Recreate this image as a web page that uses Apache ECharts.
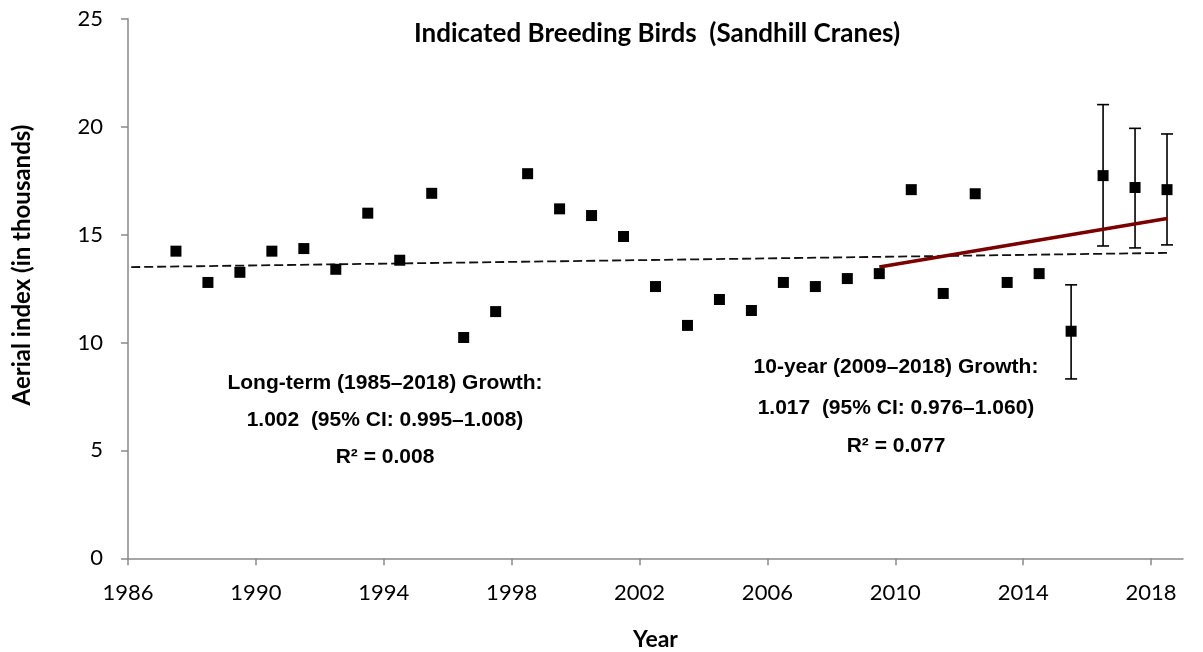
<!DOCTYPE html>
<html>
<head>
<meta charset="utf-8">
<script src="https://cdn.jsdelivr.net/npm/echarts@6/dist/echarts.min.js"></script>
<style>
  html, body { margin: 0; padding: 0; background: #fff; }
  #chart { width: 1203px; height: 652px; }
</style>
</head>
<body>
<div id="chart"></div>
<script>
// survey years and aerial index (thousands)
const years = [1987, 1988, 1989, 1990, 1991, 1992, 1993, 1994, 1995, 1996, 1997,
  1998, 1999, 2000, 2001, 2002, 2003, 2004, 2005, 2006, 2007, 2008, 2009, 2010,
  2011, 2012, 2013, 2014, 2015, 2016, 2017, 2018]
const values = [14.23, 12.78, 13.25, 14.23, 14.35, 13.39, 15.99, 13.81, 16.91, 10.23, 11.43,
  17.82, 16.19, 15.88, 14.91, 12.59, 10.79, 11.99, 11.48, 12.78, 12.59, 12.96, 13.19, 17.08,
  12.27, 16.89, 12.78, 13.19, 10.52, 17.73, 17.18, 17.08]

// 95% intervals for the recent years
const ciYears = [2015, 2016, 2017, 2018]
const ciLow = [8.31, 14.47, 14.38, 14.52]
const ciHigh = [12.67, 21.02, 19.92, 19.66]

// trend lines (end points)
const longTrendX = [1986.1, 2018.5]
const longTrendY = [13.49, 14.15]
const shortTrendX = [2009.5, 2018.5]
const shortTrendY = [13.5, 15.74]

const xTicks = [1986, 1990, 1994, 1998, 2002, 2006, 2010, 2014, 2018]

const longText = ['Long-term (1985–2018) Growth:', '1.002  (95% CI: 0.995–1.008)', 'R² = 0.008']
const shortText = ['10-year (2009–2018) Growth:', '1.017  (95% CI: 0.976–1.060)', 'R² = 0.077']

// points sit in the middle of each year
const mid = 0.5

const axisColor = '#898989'
const labelFont = 'Lato, "Open Sans", sans-serif'
const noteFont = '"Liberation Sans", Arial, sans-serif'

const chart = echarts.init(document.getElementById('chart'))

const noteLines = (lines, x, ys) => lines.map((t, i) => ({
  type: 'text',
  x: x,
  y: ys[i],
  style: {
    text: t,
    fill: '#000',
    font: 'bold 21px ' + noteFont,
    textAlign: 'center',
    textVerticalAlign: 'middle'
  }
}))

chart.setOption({
  animation: false,
  grid: {
    left: 128,
    right: 20,
    top: 18.7,
    bottom: 93.7,
    outerBoundsMode: 'none'
  },
  xAxis: {
    type: 'value',
    min: 1986,
    max: 2019,
    name: 'Year',
    nameLocation: 'middle',
    nameGap: 81,
    nameTextStyle: {
      fontFamily: labelFont,
      fontWeight: 'bold',
      fontSize: 23,
      color: '#000',
      verticalAlign: 'middle'
    },
    splitLine: { show: false },
    axisLine: { lineStyle: { color: axisColor, width: 1.5 } },
    axisTick: {
      customValues: xTicks,
      length: 7,
      lineStyle: { color: axisColor, width: 1.5 }
    },
    axisLabel: {
      customValues: xTicks,
      formatter: v => String(v),
      margin: 24,
      fontFamily: labelFont,
      fontSize: 22,
      color: '#000'
    }
  },
  yAxis: {
    type: 'value',
    min: 0,
    max: 25,
    interval: 5,
    splitLine: { show: false },
    axisLine: { show: true, lineStyle: { color: axisColor, width: 1.5 } },
    axisTick: { show: true, length: 7, lineStyle: { color: axisColor, width: 1.5 } },
    axisLabel: {
      margin: 25,
      fontFamily: labelFont,
      fontSize: 22,
      color: '#000'
    }
  },
  graphic: [
    {
      type: 'text',
      x: 657,
      y: 34,
      style: {
        text: 'Indicated Breeding Birds  (Sandhill Cranes)',
        fill: '#000',
        font: 'bold 26px ' + labelFont,
        textAlign: 'center',
        textVerticalAlign: 'middle'
      }
    },
    {
      type: 'text',
      x: 22,
      y: 265,
      rotation: Math.PI / 2,
      style: {
        text: 'Aerial index (in thousands)',
        fill: '#000',
        font: 'bold 24px ' + labelFont,
        textAlign: 'center',
        textVerticalAlign: 'middle'
      }
    },
    ...noteLines(longText, 385, [383, 420, 457]),
    ...noteLines(shortText, 896, [367, 408, 446])
  ],
  series: [
    {
      name: 'long-term trend',
      type: 'line',
      data: longTrendX.map((x, i) => [x, longTrendY[i]]),
      symbol: 'none',
      z: 2,
      lineStyle: { color: '#111', width: 1.8, type: [9, 4] }
    },
    {
      name: 'confidence interval',
      type: 'custom',
      data: ciYears.map((y, i) => [y + mid, ciLow[i], ciHigh[i]]),
      z: 3,
      renderItem: (params, api) => {
        const x = api.value(0)
        const low = api.coord([x, api.value(1)])
        const high = api.coord([x, api.value(2)])
        const half = 6
        const style = { stroke: '#000', lineWidth: 1.6 }
        return {
          type: 'group',
          children: [{
            type: 'line',
            shape: { x1: low[0], y1: low[1], x2: high[0], y2: high[1] },
            style: style
          }, {
            type: 'line',
            shape: { x1: low[0] - half, y1: low[1], x2: low[0] + half, y2: low[1] },
            style: style
          }, {
            type: 'line',
            shape: { x1: high[0] - half, y1: high[1], x2: high[0] + half, y2: high[1] },
            style: style
          }]
        }
      }
    },
    {
      name: '10-year trend',
      type: 'line',
      data: shortTrendX.map((x, i) => [x, shortTrendY[i]]),
      symbol: 'none',
      z: 4,
      lineStyle: { color: '#7a0000', width: 3.5 }
    },
    {
      name: 'aerial index',
      type: 'scatter',
      data: years.map((y, i) => [y + mid, values[i]]),
      symbol: 'rect',
      symbolSize: 11,
      z: 5,
      itemStyle: { color: '#000', opacity: 1 }
    }
  ]
})
</script>
</body>
</html>
